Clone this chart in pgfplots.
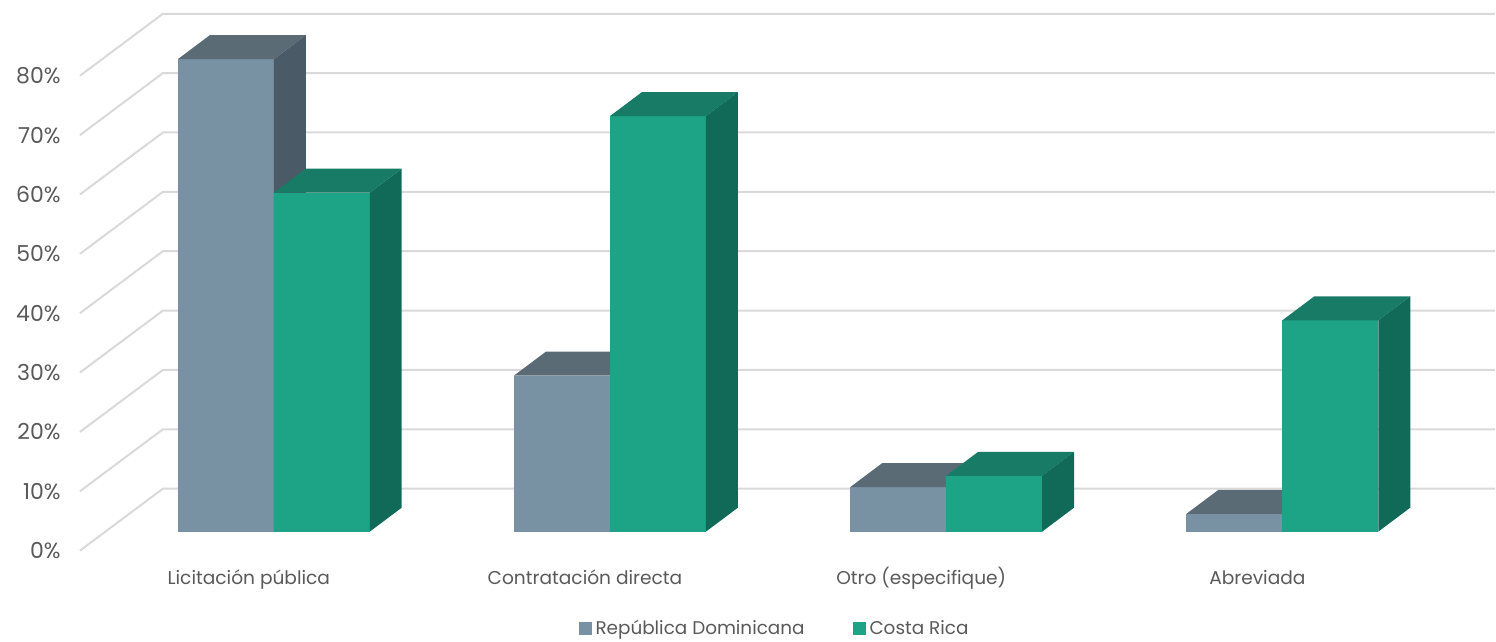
\documentclass[border=0pt]{standalone}
\usepackage{pgfplots}
\usepackage{pgfplotstable}
\pgfplotsset{compat=1.18}
\usepackage{fontspec}
\setmainfont{Poppins}
\definecolor{rdf}{HTML}{7891A3}
\definecolor{rdt}{HTML}{5A6B76}
\definecolor{rds}{HTML}{4A5A66}
\definecolor{crf}{HTML}{1DA386}
\definecolor{crt}{HTML}{177B65}
\definecolor{crs}{HTML}{116A57}
\definecolor{gridc}{HTML}{D9D9D9}
\definecolor{txt}{HTML}{595959}

\pgfplotstableread{
idx rd cr
0 79.6 57.1
1 26.3 70.0
2 7.5 9.4
3 3.0 35.6
}\datatable

% front-left x, value, front colour, top colour, side colour
\newcommand\drawbox[5]{%
  \pgfmathsetmacro\xA{#1}%
  \pgfmathsetmacro\xB{#1+96}%
  \pgfmathsetmacro\xC{#1+32}%
  \pgfmathsetmacro\xD{#1+128}%
  \pgfmathsetmacro\yT{3.2+#2}%
  \pgfmathsetmacro\yU{3.2+#2+4.04}%
  \edef\doplot{%
    \noexpand\addplot[forget plot, fill=#3, draw=none] coordinates {(\xA,3.2) (\xB,3.2) (\xB,\yT) (\xA,\yT)};
    \noexpand\addplot[forget plot, fill=#4, draw=none] coordinates {(\xA,\yT) (\xB,\yT) (\xD,\yU) (\xC,\yU)};
    \noexpand\addplot[forget plot, fill=#5, draw=none] coordinates {(\xB,3.2) (\xD,7.24) (\xD,\yU) (\xB,\yT)};
  }\doplot
}

\begin{document}
\begin{tikzpicture}
\begin{axis}[
  x=0.5pt, y=2.97pt,
  xmin=0, xmax=1496, ymin=-14.81, ymax=92.76,
  clip=false,
  axis line style={draw=none},
  tick style={draw=none},
  major tick length=0pt,
  ytick={0,10,...,80},
  yticklabel={\pgfmathprintnumber[assume math mode=true]{\tick}\%},
  yticklabel style={anchor=east, inner sep=0pt, xshift=30.5pt, text=txt, font=\fontsize{11}{13}\selectfont},
  xtick={249,585.4,921.8,1258.2},
  xticklabels={Licitación pública, Contratación directa, Otro (especifique), Abreviada},
  xticklabel style={anchor=base, inner sep=0pt, yshift=27pt, text=txt, font=\fontsize{9.3}{11}\selectfont},
  legend style={at={(0.5187,-0.006)}, anchor=south, draw=none, fill=none, legend columns=2,
    font=\fontsize{9.2}{11}\selectfont, text=txt, inner sep=0pt,
    /tikz/every even column/.append style={column sep=22pt}},
  legend image code/.code={\fill[#1, draw=none] (0pt,-3pt) rectangle (6.5pt,3.5pt);},
]
% back wall gridlines
\pgfplotsforeachungrouped \k in {0,1,...,8}{%
  \pgfmathsetmacro\ya{10*\k}%
  \pgfmathsetmacro\yb{10*\k+10.44}%
  \edef\doline{\noexpand\addplot[forget plot, gridc, line width=1pt] coordinates {(80,\ya) (163,\yb) (1496,\yb)};}\doline
}
% bars
\pgfplotsforeachungrouped \i in {0,1,2,3}{%
  \pgfplotstablegetelem{\i}{rd}\of\datatable \let\vrd\pgfplotsretval
  \pgfplotstablegetelem{\i}{cr}\of\datatable \let\vcr\pgfplotsretval
  \pgfmathsetmacro\xrd{178+336.4*\i}%
  \pgfmathsetmacro\xcr{274+336.4*\i}%
  \drawbox{\xrd}{\vrd}{rdf}{rdt}{rds}%
  \drawbox{\xcr}{\vcr}{crf}{crt}{crs}%
}
\addlegendimage{fill=rdf, draw=none}
\addlegendentry{República Dominicana}
\addlegendimage{fill=crf, draw=none}
\addlegendentry{Costa Rica}
\end{axis}
\end{tikzpicture}
\end{document}
